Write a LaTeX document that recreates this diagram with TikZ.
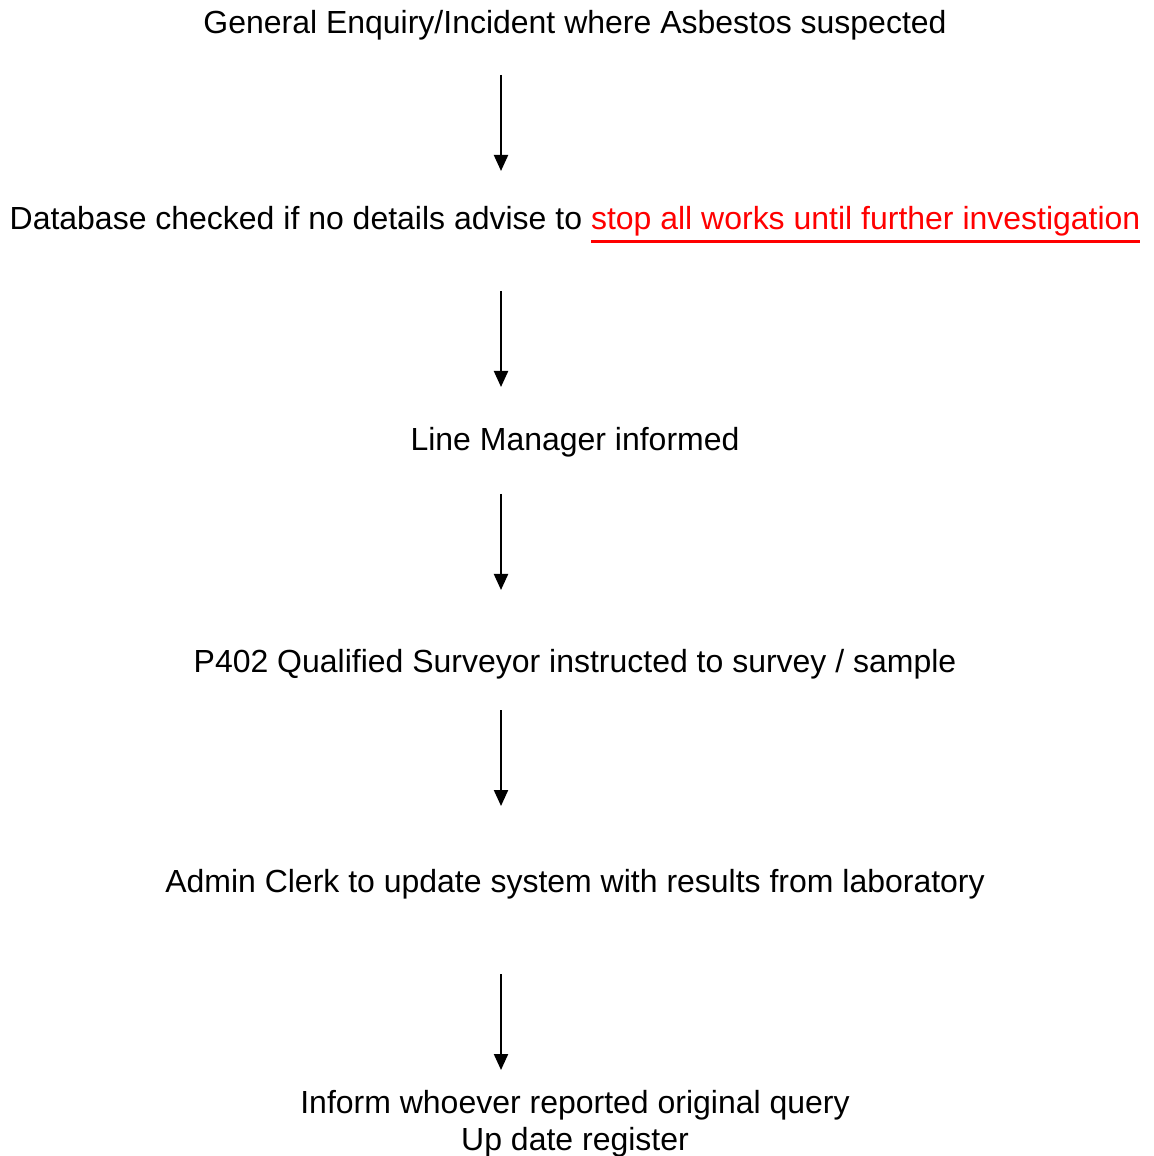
\documentclass[tikz,border=0pt]{standalone}
\usepackage{fontspec}
\setmainfont{Liberation Sans}
\usepackage{xcolor}
\usetikzlibrary{arrows.meta}
% underline drawn as a rule below the baseline
\newcommand{\ulinered}[1]{\setbox0\hbox{#1}\rlap{\rule[-3.7pt]{\wd0}{0.75pt}}\box0}

\begin{document}
\begin{tikzpicture}[>={Triangle[length=1.6mm,width=1.4mm]}, line width=0.6pt,
  stage/.style={anchor=base, align=center, inner sep=0pt, font=\fontsize{9.1pt}{10.5pt}\selectfont}]
  \useasboundingbox (0,0) rectangle (11.53,-11.56);
  \node[stage](enq) at (5.75,-0.34){General Enquiry/Incident where Asbestos suspected};
  \node[stage](db) at (5.75,-2.30){Database checked if no details advise to \textcolor{red}{\ulinered{stop all works until further investigation}}};
  \node[stage](mgr) at (5.75,-4.51){Line Manager informed};
  \node[stage](surv) at (5.75,-6.72){P402 Qualified Surveyor instructed to survey / sample};
  \node[stage](clerk) at (5.75,-8.92){Admin Clerk to update system with results from laboratory};
  % base of a two-line node sits on its last line
  \node[stage](inform) at (5.75,-11.50){Inform whoever reported original query\\ Up date register};
  % arrow ends, all on one vertical line left of centre
  \coordinate (s1) at (5.01,-0.75);  \coordinate (e1) at (5.01,-1.71);
  \coordinate (s2) at (5.01,-2.91);  \coordinate (e2) at (5.01,-3.87);
  \coordinate (s3) at (5.01,-4.94);  \coordinate (e3) at (5.01,-5.90);
  \coordinate (s4) at (5.01,-7.10);  \coordinate (e4) at (5.01,-8.06);
  \coordinate (s5) at (5.01,-9.74);  \coordinate (e5) at (5.01,-10.70);
  \draw[->](s1)--(e1); \draw[->](s2)--(e2); \draw[->](s3)--(e3);
  \draw[->](s4)--(e4); \draw[->](s5)--(e5);
\end{tikzpicture}
\end{document}
